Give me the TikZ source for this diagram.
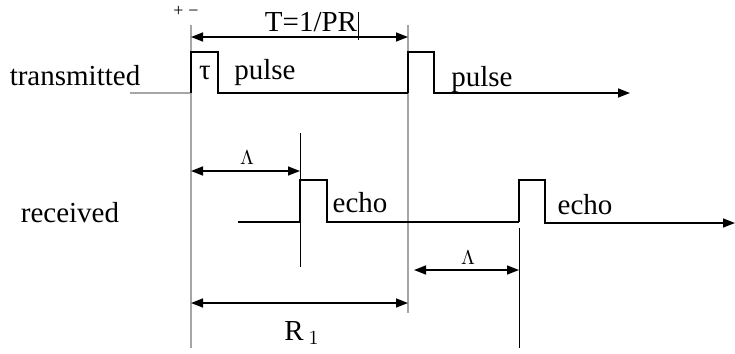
\documentclass[tikz,border=0pt]{standalone}
\usepackage{fontspec}
\setmainfont{Liberation Serif}
\usetikzlibrary{arrows.meta}
\begin{document}
\begin{tikzpicture}[x=0.5pt, y=-0.5pt, >={Triangle[length=6pt,width=4.5pt]},
    font=\fontsize{14.5}{17}\selectfont,
    sig/.style={line width=0.8pt},
    guide/.style={line width=0.8pt, gray!70},
    tickline/.style={line width=0.5pt},
    dim/.style={line width=0.8pt, <->}]
  \useasboundingbox (0,0) rectangle (735,354);
  % time marks
  \coordinate (T0) at (191,93);
  \coordinate (T1) at (408,93);
  \coordinate (E0) at (300,222);
  \coordinate (E1) at (519,222);
  \draw[guide] (191,25) -- (191,348);
  \draw[guide] (408,25) -- (408,313);
  \draw[tickline] (300,133) -- (300,267);
  \draw[tickline] (519,228) -- (519,348);
  % transmitted
  \draw[guide] (130,93) -- (T0);
  \draw[sig] (T0) |- (218,52) |- (T1);
  \draw[sig, ->] (T1) |- (434,52) |- (630,93);
  \node (tx) at (75,76) {transmitted};
  \node (tau) at (205,73) {τ};
  \node (p1) at (265,73) {pulse};
  \node (p2) at (482,80) {pulse};
  % received
  \draw[sig] (238,222) -- (E0);
  \draw[sig] (E0) |- (327,180) |- (E1);
  \draw[sig, ->] (E1) |- (545,180) |- (735,223);
  \node (rx) at (70,213) {received};
  \node (e1) at (360,203) {echo};
  \node (e2) at (585,205) {echo};
  % intervals
  \node (pm) at (186,11) {\small +\;\textminus};
  \draw[dim] (191,37) -- (408,37);
  \node (T) at (311,22) {T=1/PR};
  \draw[tickline] (358,12) -- (358,40);
  \draw[dim] (191,171) -- (300,171);
  \node (L1) at (247,158) {$\scriptstyle\Lambda$};
  \draw[dim] (414,270) -- (519,270);
  \node (L2) at (468,258) {$\scriptstyle\Lambda$};
  \draw[dim] (191,303) -- (408,303);
  \node (R) at (302,333) {R\,$_1$};
\end{tikzpicture}
\end{document}
